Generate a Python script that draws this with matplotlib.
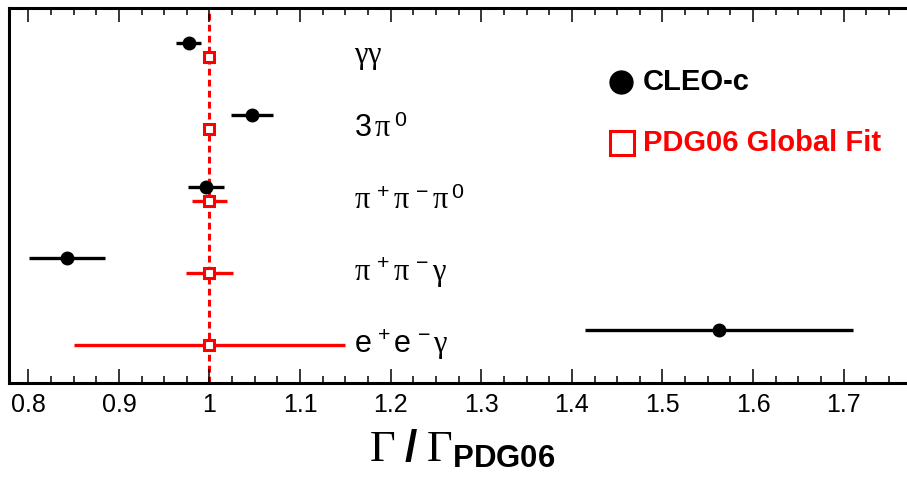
import matplotlib
matplotlib.use('Agg')
import matplotlib.pyplot as plt
from matplotlib.ticker import MultipleLocator, FuncFormatter

plt.rcParams['font.family'] = ['Liberation Sans', 'DejaVu Sans']
plt.rcParams['mathtext.fontset'] = 'custom'
plt.rcParams['mathtext.rm'] = 'Liberation Sans'
plt.rcParams['mathtext.it'] = 'Liberation Serif'
plt.rcParams['mathtext.sf'] = 'Liberation Serif'
plt.rcParams['mathtext.bf'] = 'Liberation Sans:bold'

# decay modes, top to bottom
modes = [r'$\gamma\gamma$', r'$3\,\pi^{\,0}$', r'$\pi^{\,+}\pi^{\,-}\pi^{\,0}$',
         r'$\pi^{\,+}\pi^{\,-}\gamma$', r'$\mathrm{e}^{\,+}\mathrm{e}^{\,-}\gamma$']
ypos = [4, 3, 2, 1, 0]

# CLEO-c measurement, relative to PDG06
cleo_val = [0.977, 1.047, 0.996, 0.843, 1.562]
cleo_err = [0.014, 0.023, 0.020, 0.042, 0.148]

# PDG06 global fit
pdg_val = [1.0, 1.0, 1.0, 1.0, 1.0]
pdg_err = [0.004, 0.006, 0.019, 0.026, 0.150]

cleo_shift = 0.2
label_x = 1.159

RED = '#ff0000'

fig = plt.figure(figsize=(9.07, 4.80), dpi=100)
ax = fig.add_axes([9/907, 97/480, 906/907, 375/480])

ax.axvline(1.0, color=RED, lw=2.2, ls=(0, (2.2, 1.4)), zorder=1)

ax.errorbar(pdg_val, ypos, xerr=pdg_err, fmt='s', color=RED, ecolor=RED,
            elinewidth=2.4, capsize=0, ms=7, mfc='white', mec=RED, mew=2.2,
            zorder=3)
ax.errorbar(cleo_val, [y + cleo_shift for y in ypos], xerr=cleo_err, fmt='o',
            color='black', elinewidth=2.4, capsize=0, ms=9, zorder=4)

for lab, y in zip(modes, ypos):
    ax.text(label_x, y, lab, fontsize=22, ha='left', va='center')

# legend, drawn by hand in axes fraction
ax.plot([0.6755], [0.8027], 'o', color='black', ms=16.5, transform=ax.transAxes,
        clip_on=False)
ax.text(0.6998, 0.8027, 'CLEO-c', fontsize=21, fontweight='bold', color='black',
        ha='left', va='center', transform=ax.transAxes)
ax.plot([0.6766], [0.64], 's', mfc='none', mec=RED, mew=2.2, ms=17,
        transform=ax.transAxes, clip_on=False)
ax.text(0.6998, 0.64, 'PDG06 Global Fit', fontsize=21, fontweight='bold', color=RED,
        ha='left', va='center', transform=ax.transAxes)

ax.set_xlim(0.7787, 1.7787)
ax.set_ylim(-0.53, 4.68)

ax.xaxis.set_major_locator(MultipleLocator(0.1))
ax.xaxis.set_minor_locator(MultipleLocator(0.025))
ax.xaxis.set_major_formatter(FuncFormatter(lambda v, p: '%g' % round(v, 3)))
ax.tick_params(axis='x', which='both', direction='in', top=True, width=1.1,
               labelsize=18, pad=7)
ax.tick_params(axis='x', which='major', length=10)
ax.tick_params(axis='x', which='minor', length=5)
ax.set_yticks([])

for s in ax.spines.values():
    s.set_linewidth(2.2)

ax.set_xlabel(r'$\mathsf{\Gamma}\;\mathbf{/}\;\mathsf{\Gamma}_{\mathbf{PDG06}}$',
              fontsize=32, labelpad=8)

fig.savefig('out.png', dpi=100)
